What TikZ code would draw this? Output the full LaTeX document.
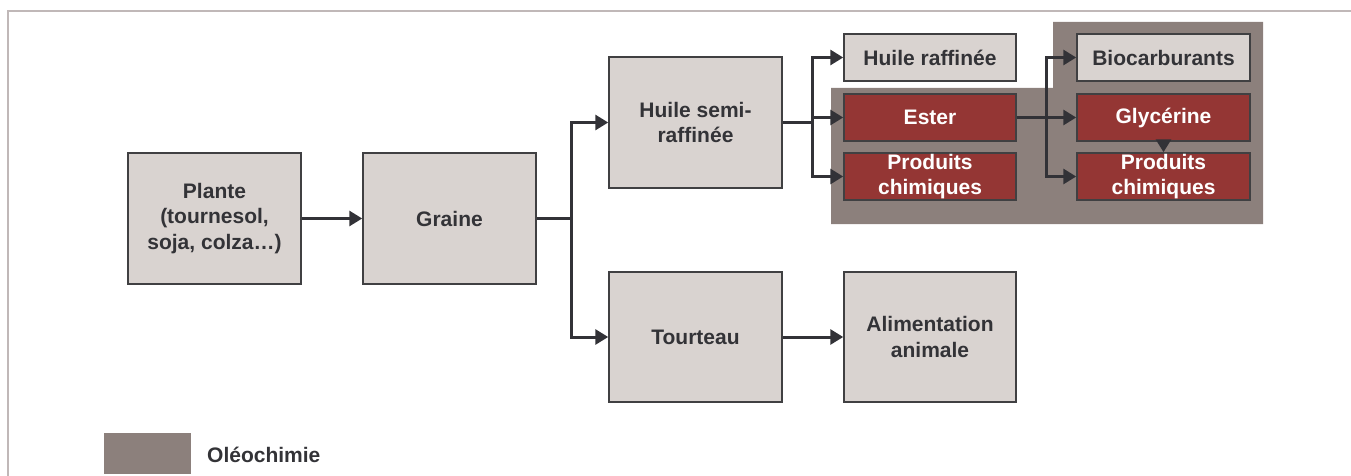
\documentclass[tikz,border=0pt]{standalone}
\usepackage{fontspec}
\setmainfont{Liberation Sans}
\usetikzlibrary{arrows.meta}
\definecolor{boxfill}{RGB}{217,211,208}
\definecolor{boxline}{RGB}{64,64,66}
\definecolor{oleo}{RGB}{140,128,124}
\definecolor{redfill}{RGB}{148,54,52}
\definecolor{txt}{RGB}{51,51,55}
\definecolor{framec}{RGB}{192,184,184}
\definecolor{arrc}{RGB}{50,50,55}
\tikzset{
  lbl/.style={font=\fontsize{21}{25.5}\selectfont\bfseries},
  box/.style={draw=boxline, line width=1.5pt, fill=boxfill, text=txt,
    lbl, align=center, inner sep=0pt},
  redbox/.style={box, fill=redfill, text=white},
  link/.style={draw=arrc, line width=3pt},
  arr/.style={link, -{Triangle[length=13pt,width=15pt]}},
}
\begin{document}
\begin{tikzpicture}[x=1pt, y=-1pt]
\useasboundingbox (0,0) rectangle (1351,476);
% outer frame
\draw[framec, line width=1.3pt] (8,476) -- (8,11) -- (1351,11);
% oleochemistry area
\fill[oleo] (831,88) -- (1053,88) -- (1053,22) -- (1263,22) -- (1263,224) -- (831,224) -- cycle;
% boxes
\node[box, minimum width=173pt, minimum height=131pt] (plante) at (214.5,218.5) {Plante\\(tournesol,\\soja, colza…)};
\node[box, minimum width=173pt, minimum height=131pt] (graine) at (449.5,218.5) {Graine};
\node[box, minimum width=173pt, minimum height=131pt] (semi) at (695.5,122.5) {Huile semi-\\raffinée};
\node[box, minimum width=173pt, minimum height=130pt] (tourteau) at (695.5,337) {Tourteau};
\node[box, minimum width=172pt, minimum height=130pt] (alim) at (930,337) {Alimentation\\animale};
\node[box, minimum width=172pt, minimum height=47pt] (raff) at (930,57.5) {Huile raffinée};
\node[redbox, minimum width=172pt, minimum height=47pt] (ester) at (930,117.5) {Ester};
\node[redbox, minimum width=172pt, minimum height=47pt] (prodA) at (930,176.5) {Produits\\chimiques};
\node[box, minimum width=173pt, minimum height=47pt] (bio) at (1163.5,57.5) {Biocarburants};
\node[redbox, minimum width=173pt, minimum height=47pt] (glyc) at (1163.5,117.5) {Glycérine};
\node[redbox, minimum width=173pt, minimum height=47pt] (prodB) at (1163.5,176.5) {Produits\\chimiques};
% branching points
\coordinate (s1) at (571,218.5);
\coordinate (s2) at (812,122.5);
\coordinate (s3) at (1046,117.5);
% connectors
\draw[arr] (plante.east) -- (graine.west);
\draw[link] (graine.east) -- (s1);
\draw[arr] (s1) |- (semi.west);
\draw[arr] (s1) |- (tourteau.west);
\draw[arr] (tourteau.east) -- (alim.west);
\draw[link] (semi.east) -- (s2);
\draw[arr] (s2) |- (raff.west);
\draw[arr] (s2) |- (ester.west);
\draw[arr] (s2) |- (prodA.west);
\draw[arr] (ester.east) -- (glyc.west);
\draw[arr] (s3) |- (bio.west);
\draw[arr] (s3) |- (prodB.west);
\draw[arr] (glyc.south) -- (prodB.north);
% legend
\fill[oleo] (104,433) rectangle (191,474);
\node[anchor=west, text=txt, lbl, inner sep=0pt] (leg) at (207,455) {Oléochimie};
\end{tikzpicture}
\end{document}
